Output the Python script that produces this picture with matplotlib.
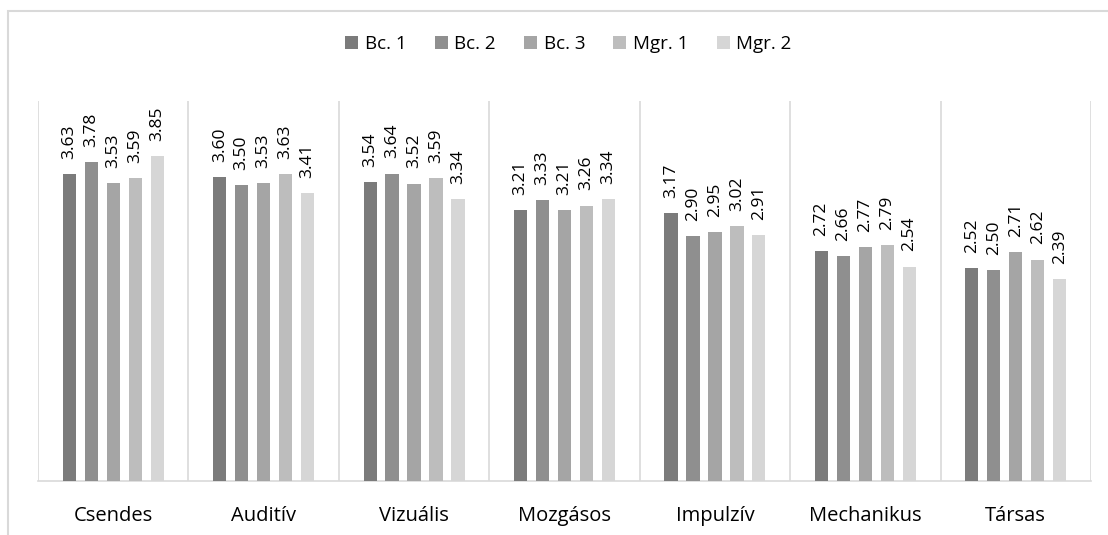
import matplotlib.pyplot as plt
import matplotlib.patches as patches
import numpy as np

plt.rcParams['font.family'] = ['Open Sans', 'DejaVu Sans']

categories = ['Csendes', 'Auditív', 'Vizuális', 'Mozgásos', 'Impulzív', 'Mechanikus', 'Társas']
series = ['Bc. 1', 'Bc. 2', 'Bc. 3', 'Mgr. 1', 'Mgr. 2']
bc1 = [3.63, 3.60, 3.54, 3.21, 3.17, 2.72, 2.52]
bc2 = [3.78, 3.50, 3.64, 3.33, 2.90, 2.66, 2.50]
bc3 = [3.53, 3.53, 3.52, 3.21, 2.95, 2.77, 2.71]
mgr1 = [3.59, 3.63, 3.59, 3.26, 3.02, 2.79, 2.62]
mgr2 = [3.85, 3.41, 3.34, 3.34, 2.91, 2.54, 2.39]
colors = ['#7b7b7b', '#8f8f8f', '#a5a5a5', '#bdbdbd', '#d6d6d6']

W, H = 1108, 535
fig = plt.figure(figsize=[W / 100, H / 100], dpi=100)
ax = fig.add_axes([38 / W, 54 / H, (1091 - 38) / W, (481 - 101) / H])

x = np.arange(len(categories))
pitch = 0.146
width = 0.088
for i, (vals, name) in enumerate(zip([bc1, bc2, bc3, mgr1, mgr2], series)):
    pos = x + (i - 2) * pitch
    ax.bar(pos, vals, width, color=colors[i], label=name, zorder=3)
    for xp, v in zip(pos, vals):
        ax.annotate('%.2f' % v, (xp, v), xytext=(0, 11), textcoords='offset points',
                    rotation=90, ha='center', va='bottom', fontsize=12.5, color='#000000')

ax.set_xlim(-0.5, len(categories) - 0.5)
ax.set_ylim(0, 4.5)
ax.vlines(np.arange(len(categories) + 1) - 0.5, 0, 4.5, color='#d9d9d9', lw=1.2, zorder=1)

for s in ['top', 'left', 'right']:
    ax.spines[s].set_visible(False)
ax.spines['bottom'].set_color('#d9d9d9')
ax.spines['bottom'].set_linewidth(1.2)
ax.set_yticks([])
ax.set_xticks(x)
ax.set_xticklabels(categories, fontsize=14.5)
ax.tick_params(axis='x', length=0, pad=18)

fig.legend(loc='center', bbox_to_anchor=(0.513, 1 - 44 / H), ncol=5, frameon=False,
           fontsize=13.5, handlelength=0.7, handleheight=0.7, handletextpad=0.35,
           columnspacing=1.5)

# outer chart border (right/bottom edges lie outside the image)
fig.patches.append(patches.Rectangle((8 / W, -0.1), 1.2, 1.1 - 11 / H,
                                     transform=fig.transFigure, fill=False,
                                     edgecolor='#d9d9d9', lw=1.5))

fig.savefig('out.png', dpi=100)
